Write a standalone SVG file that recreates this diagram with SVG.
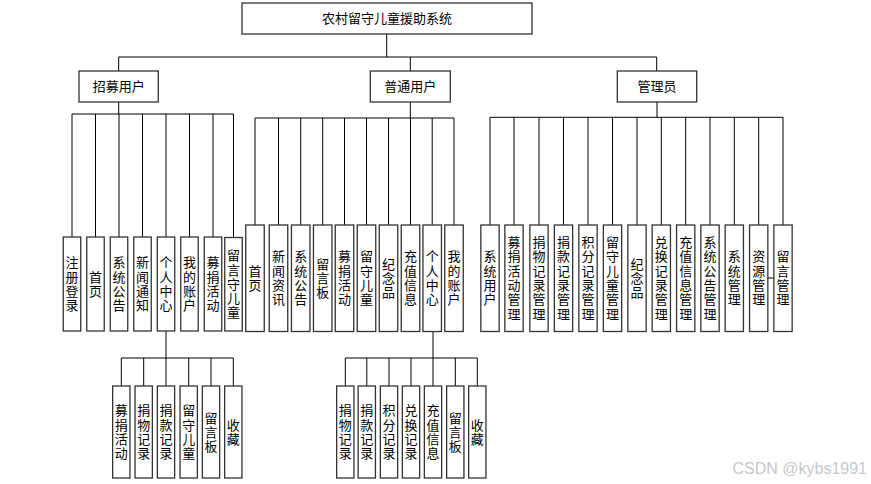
<svg xmlns="http://www.w3.org/2000/svg" width="871" height="484" viewBox="0 0 871 484">
<style>
.box{fill:#fff;stroke:#333;stroke-width:1.3}
.t{font-family:"Noto Sans CJK SC","Noto Sans",sans-serif;font-size:13px;text-anchor:middle;fill:#000}
.v{writing-mode:vertical-rl;letter-spacing:1.3px}
.ln{fill:none;stroke:#000;stroke-width:1}
.wm{font-family:"Liberation Sans",Arial,sans-serif;font-size:16px;fill:#c8c8c8}
</style>
<rect width="871" height="484" fill="#fff"/>
<g id="connectors" class="ln">
<path d="M386.7,34V57M118.7,57H656.7M118.7,57V71M410.3,57V71M656.7,57V71"/>
<path d="M118.7,102V114M72,114H233.5M72,114V237M95.5,114V237M119,114V237M142.5,114V237M166,114V237M189.5,114V237M213,114V237M233.5,114V237"/>
<path d="M410.3,102V118M255,118H454M255,118V225M278.5,118V225M300.7,118V225M322.7,118V225M344.5,118V225M366.5,118V225M388.5,118V225M410.5,118V225M432.2,118V225M454,118V225"/>
<path d="M657,102V117.3M490,117.3H783M490,117.3V225M514,117.3V225M539,117.3V225M563.5,117.3V225M588,117.3V225M612.5,117.3V225M637,117.3V225M661.3,117.3V225M685.7,117.3V225M710,117.3V225M734.3,117.3V225M758.7,117.3V225M783,117.3V225"/>
<path d="M767.85,278H773.85"/>
<path d="M166,331V358M121.3,358H233.3M121.3,358V386M143.7,358V386M166,358V386M188.7,358V386M211,358V386M233.3,358V386"/>
<path d="M433,331.5V358M345.3,358H477.3M345.3,358V386M366.8,358V386M389,358V386M411,358V386M433,358V386M455.3,358V386M477.3,358V386"/>
</g>
<g id="root"><rect class="box" x="242" y="3" width="290" height="31"/><text class="t" x="387" y="23">农村留守儿童援助系统</text></g>
<g id="recruit"><rect class="box" x="79" y="71" width="79.3" height="31"/><text class="t" x="118.7" y="91">招募用户</text></g>
<g id="normal"><rect class="box" x="370.3" y="71" width="80" height="31"/><text class="t" x="410.3" y="91">普通用户</text></g>
<g id="admin"><rect class="box" x="617.3" y="71" width="79.4" height="31"/><text class="t" x="657" y="91">管理员</text></g>

<g id="r1"><rect class="box" x="63.25" y="237" width="17.5" height="94"/><text class="t v" x="72" y="284.6">注册登录</text></g>
<g id="r2"><rect class="box" x="86.75" y="237" width="17.5" height="94"/><text class="t v" x="95.5" y="284.6">首页</text></g>
<g id="r3"><rect class="box" x="110.25" y="237" width="17.5" height="94"/><text class="t v" x="119" y="284.6">系统公告</text></g>
<g id="r4"><rect class="box" x="133.75" y="237" width="17.5" height="94"/><text class="t v" x="142.5" y="284.6">新闻通知</text></g>
<g id="r5"><rect class="box" x="157.25" y="237" width="17.5" height="94"/><text class="t v" x="166" y="284.6">个人中心</text></g>
<g id="r6"><rect class="box" x="180.75" y="237" width="17.5" height="94"/><text class="t v" x="189.5" y="284.6">我的账户</text></g>
<g id="r7"><rect class="box" x="204.25" y="237" width="17.5" height="94"/><text class="t v" x="213" y="284.6">募捐活动</text></g>
<g id="r8"><rect class="box" x="224.75" y="237.5" width="17.5" height="93.5"/><text class="t v" x="233.5" y="284.6">留言守儿童</text></g>

<g id="n1"><rect class="box" x="245.75" y="225" width="18.5" height="106.5"/><text class="t v" x="255" y="278.6">首页</text></g>
<g id="n2"><rect class="box" x="269.25" y="225" width="18.5" height="106.5"/><text class="t v" x="278.5" y="278.6">新闻资讯</text></g>
<g id="n3"><rect class="box" x="291.45" y="225" width="18.5" height="106.5"/><text class="t v" x="300.7" y="278.6">系统公告</text></g>
<g id="n4"><rect class="box" x="313.45" y="225" width="18.5" height="106.5"/><text class="t v" x="322.7" y="278.6">留言板</text></g>
<g id="n5"><rect class="box" x="335.25" y="225" width="18.5" height="106.5"/><text class="t v" x="344.5" y="278.6">募捐活动</text></g>
<g id="n6"><rect class="box" x="357.25" y="225" width="18.5" height="106.5"/><text class="t v" x="366.5" y="278.6">留守儿童</text></g>
<g id="n7"><rect class="box" x="379.25" y="225" width="18.5" height="106.5"/><text class="t v" x="388.5" y="278.6">纪念品</text></g>
<g id="n8"><rect class="box" x="401.25" y="225" width="18.5" height="106.5"/><text class="t v" x="410.5" y="278.6">充值信息</text></g>
<g id="n9"><rect class="box" x="422.95" y="225" width="18.5" height="106.5"/><text class="t v" x="432.2" y="278.6">个人中心</text></g>
<g id="n10"><rect class="box" x="444.75" y="225" width="18.5" height="106.5"/><text class="t v" x="454" y="278.6">我的账户</text></g>

<g id="a1"><rect class="box" x="480.85" y="225" width="18.3" height="106.5"/><text class="t v" x="490" y="278.6">系统用户</text></g>
<g id="a2"><rect class="box" x="504.85" y="225" width="18.3" height="106.5"/><text class="t v" x="514" y="278.6">募捐活动管理</text></g>
<g id="a3"><rect class="box" x="529.85" y="225" width="18.3" height="106.5"/><text class="t v" x="539" y="278.6">捐物记录管理</text></g>
<g id="a4"><rect class="box" x="554.35" y="225" width="18.3" height="106.5"/><text class="t v" x="563.5" y="278.6">捐款记录管理</text></g>
<g id="a5"><rect class="box" x="578.85" y="225" width="18.3" height="106.5"/><text class="t v" x="588" y="278.6">积分记录管理</text></g>
<g id="a6"><rect class="box" x="603.35" y="225" width="18.3" height="106.5"/><text class="t v" x="612.5" y="278.6">留守儿童管理</text></g>
<g id="a7"><rect class="box" x="627.85" y="225" width="18.3" height="106.5"/><text class="t v" x="637" y="278.6">纪念品</text></g>
<g id="a8"><rect class="box" x="652.15" y="225" width="18.3" height="106.5"/><text class="t v" x="661.3" y="278.6">兑换记录管理</text></g>
<g id="a9"><rect class="box" x="676.55" y="225" width="18.3" height="106.5"/><text class="t v" x="685.7" y="278.6">充值信息管理</text></g>
<g id="a10"><rect class="box" x="700.85" y="225" width="18.3" height="106.5"/><text class="t v" x="710" y="278.6">系统公告管理</text></g>
<g id="a11"><rect class="box" x="725.15" y="225" width="18.3" height="106.5"/><text class="t v" x="734.3" y="278.6">系统管理</text></g>
<g id="a12"><rect class="box" x="749.55" y="225" width="18.3" height="106.5"/><text class="t v" x="758.7" y="278.6">资源管理</text></g>
<g id="a13"><rect class="box" x="773.85" y="225" width="18.3" height="106.5"/><text class="t v" x="783" y="278.6">留言管理</text></g>

<g id="rb1"><rect class="box" x="112.65" y="386" width="17.3" height="92"/><text class="t v" x="121.3" y="432.6">募捐活动</text></g>
<g id="rb2"><rect class="box" x="135.05" y="386" width="17.3" height="92"/><text class="t v" x="143.7" y="432.6">捐物记录</text></g>
<g id="rb3"><rect class="box" x="157.35" y="386" width="17.3" height="92"/><text class="t v" x="166" y="432.6">捐款记录</text></g>
<g id="rb4"><rect class="box" x="180.05" y="386" width="17.3" height="92"/><text class="t v" x="188.7" y="432.6">留守儿童</text></g>
<g id="rb5"><rect class="box" x="202.35" y="386" width="17.3" height="92"/><text class="t v" x="211" y="432.6">留言板</text></g>
<g id="rb6"><rect class="box" x="224.65" y="386" width="17.3" height="92"/><text class="t v" x="233.3" y="432.6">收藏</text></g>

<g id="nb1"><rect class="box" x="336.65" y="386" width="17.3" height="92"/><text class="t v" x="345.3" y="432.6">捐物记录</text></g>
<g id="nb2"><rect class="box" x="358.15" y="386" width="17.3" height="92"/><text class="t v" x="366.8" y="432.6">捐款记录</text></g>
<g id="nb3"><rect class="box" x="380.35" y="386" width="17.3" height="92"/><text class="t v" x="389" y="432.6">积分记录</text></g>
<g id="nb4"><rect class="box" x="402.35" y="386" width="17.3" height="92"/><text class="t v" x="411" y="432.6">兑换记录</text></g>
<g id="nb5"><rect class="box" x="424.35" y="386" width="17.3" height="92"/><text class="t v" x="433" y="432.6">充值信息</text></g>
<g id="nb6"><rect class="box" x="446.65" y="386" width="17.3" height="92"/><text class="t v" x="455.3" y="432.6">留言板</text></g>
<g id="nb7"><rect class="box" x="468.65" y="386" width="17.3" height="92"/><text class="t v" x="477.3" y="432.6">收藏</text></g>

<text class="wm" x="732.5" y="474">CSDN @kybs1991</text>
</svg>
